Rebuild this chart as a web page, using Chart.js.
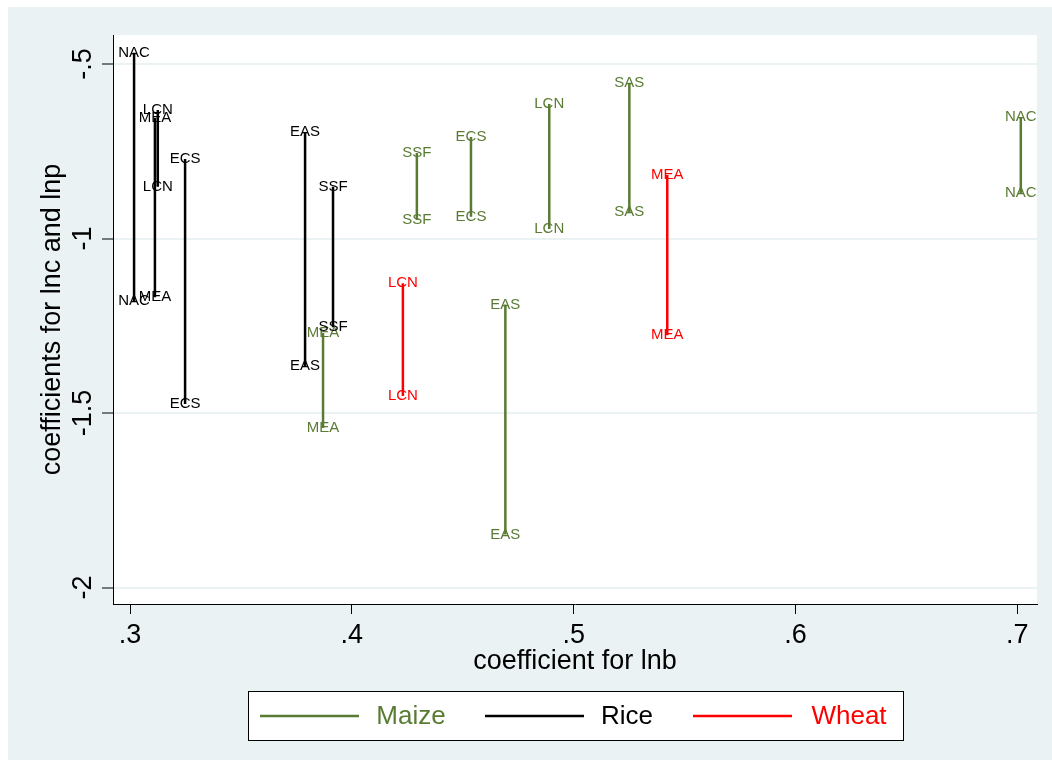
<!DOCTYPE html>
<html>
<head>
<meta charset="utf-8">
<script src="https://cdn.jsdelivr.net/npm/chart.js@4"></script>
<style>
  html, body { margin: 0; padding: 0; background: #fff; }
  canvas { display: block; }
</style>
</head>
<body>
<canvas id="chart" width="1052" height="769"></canvas>
<script>
// DATI: coefficient for lnb (x) e coefficients for lnc / lnp (estremi dei segmenti)
const maizeRegions = ["MEA", "SSF", "ECS", "EAS", "LCN", "SAS", "NAC"];
const maizeLnb = [0.387, 0.4293, 0.4537, 0.4692, 0.489, 0.5251, 0.7016];
const maizeTop = [-1.271, -0.755, -0.709, -1.189, -0.615, -0.554, -0.652];
const maizeBottom = [-1.543, -0.947, -0.938, -1.848, -0.973, -0.924, -0.870];

const riceRegions = ["NAC", "MEA", "LCN", "ECS", "EAS", "SSF"];
const riceLnb = [0.3018, 0.3112, 0.3125, 0.3248, 0.3789, 0.3915];
const riceTop = [-0.468, -0.655, -0.632, -0.772, -0.695, -0.852];
const riceBottom = [-1.179, -1.168, -0.852, -1.474, -1.365, -1.254];

const wheatRegions = ["LCN", "MEA"];
const wheatLnb = [0.423, 0.5422];
const wheatTop = [-1.128, -0.818];
const wheatBottom = [-1.451, -1.277];

const crops = ["Maize", "Rice", "Wheat"];
const cropColors = ["#5a7b34", "#000000", "#ff0000"];

const xTicks = [0.3, 0.4, 0.5, 0.6, 0.7];
const xTickLabels = [".3", ".4", ".5", ".6", ".7"];
const yTicks = [-2, -1.5, -1, -0.5];
const yTickLabels = ["-2", "-1.5", "-1", "-.5"];

const FONT = "'Liberation Sans', Arial, Helvetica, sans-serif";
const BG = "#eaf2f3";

// segmenti: top, bottom, poi un buco (null) per staccare la linea
function buildSegments(lnb, top, bottom, regions) {
  const data = [];
  const labels = [];
  for (let i = 0; i < lnb.length; i++) {
    data.push({ x: lnb[i], y: top[i] });
    labels.push(regions[i]);
    data.push({ x: lnb[i], y: bottom[i] });
    labels.push(regions[i]);
    data.push({ x: lnb[i], y: null });
    labels.push(null);
  }
  return { data, labels };
}

const seg = [
  buildSegments(maizeLnb, maizeTop, maizeBottom, maizeRegions),
  buildSegments(riceLnb, riceTop, riceBottom, riceRegions),
  buildSegments(wheatLnb, wheatTop, wheatBottom, wheatRegions),
];

// SFONDO
const backgroundPlugin = {
  id: "stataBackground",
  beforeDraw(chart) {
    const { ctx, chartArea } = chart;
    ctx.save();
    ctx.fillStyle = "#ffffff";
    ctx.fillRect(0, 0, chart.width, chart.height);
    ctx.fillStyle = BG;
    ctx.fillRect(8, 7, chart.width - 8, 753);
    ctx.fillStyle = "#ffffff";
    ctx.fillRect(chartArea.left, chartArea.top, chartArea.right - chartArea.left, chartArea.bottom - chartArea.top);
    ctx.restore();
  },
};

// ETICHETTE DEI SEGMENTI + TICK Y RUOTATI + LEGENDA
const labelsPlugin = {
  id: "segmentLabels",
  afterDatasetsDraw(chart) {
    const ctx = chart.ctx;
    ctx.save();
    ctx.font = "15px " + FONT;
    ctx.textAlign = "center";
    ctx.textBaseline = "middle";
    chart.data.datasets.forEach((ds, di) => {
      const meta = chart.getDatasetMeta(di);
      ctx.fillStyle = ds.borderColor;
      meta.data.forEach((pt, i) => {
        const txt = ds.regionLabels[i];
        if (!txt) return;
        ctx.fillText(txt, pt.x, pt.y);
      });
    });
    ctx.restore();
  },
  afterDraw(chart) {
    const ctx = chart.ctx;
    const yScale = chart.scales.y;
    ctx.save();
    // tick labels asse y, ruotati
    ctx.font = "27px " + FONT;
    ctx.fillStyle = "#000";
    ctx.textAlign = "center";
    ctx.textBaseline = "middle";
    yTicks.forEach((v, i) => {
      const py = yScale.getPixelForValue(v);
      ctx.save();
      ctx.translate(84, py);
      ctx.rotate(-Math.PI / 2);
      ctx.fillText(yTickLabels[i], 0, 0);
      ctx.restore();
    });

    // legenda
    ctx.fillStyle = "#ffffff";
    ctx.fillRect(248, 691, 655, 49);
    ctx.strokeStyle = "#000";
    ctx.lineWidth = 1;
    ctx.strokeRect(248.5, 691.5, 655, 49);
    const items = [
      { line: 260, text: 411 },
      { line: 485, text: 627 },
      { line: 693, text: 849 },
    ];
    ctx.font = "26px " + FONT;
    ctx.textAlign = "center";
    ctx.textBaseline = "middle";
    crops.forEach((c, i) => {
      ctx.strokeStyle = cropColors[i];
      ctx.lineWidth = 2.5;
      ctx.beginPath();
      ctx.moveTo(items[i].line, 716);
      ctx.lineTo(items[i].line + 99, 716);
      ctx.stroke();
      ctx.fillStyle = cropColors[i];
      ctx.fillText(c, items[i].text, 717);
    });
    ctx.restore();
  },
};

new Chart(document.getElementById("chart"), {
  type: "line",
  data: {
    datasets: crops.map((c, i) => ({
      label: c,
      data: seg[i].data,
      regionLabels: seg[i].labels,
      borderColor: cropColors[i],
      backgroundColor: cropColors[i],
      borderWidth: 2.5,
      pointRadius: 0,
      spanGaps: false,
      tension: 0,
    })),
  },
  options: {
    responsive: false,
    animation: false,
    devicePixelRatio: 1,
    layout: { padding: { left: 0, top: 35, right: 15, bottom: 85 } },
    plugins: {
      legend: { display: false },
      tooltip: { enabled: false },
    },
    scales: {
      x: {
        type: "linear",
        min: 0.2923,
        max: 0.7089,
        afterBuildTicks: (s) => { s.ticks = xTicks.map((v) => ({ value: v })); },
        afterFit: (s) => { s.height = 80; },
        ticks: {
          callback: (v, i) => xTickLabels[i],
          color: "#000",
          font: { family: FONT, size: 27 },
          padding: 5,
          maxRotation: 0,
          minRotation: 0,
        },
        grid: { drawOnChartArea: false, tickLength: 10, tickColor: "#000", color: "#000" },
        border: { display: true, color: "#000", width: 1 },
        title: {
          display: true,
          text: "coefficient for lnb",
          color: "#000",
          font: { family: FONT, size: 27 },
          padding: { top: 0, bottom: 6 },
        },
      },
      y: {
        type: "linear",
        min: -2.047,
        max: -0.417,
        afterBuildTicks: (s) => { s.ticks = yTicks.map((v) => ({ value: v })); },
        afterFit: (s) => { s.width = 113; },
        ticks: { display: false },
        grid: { color: BG, lineWidth: 2, tickLength: 11, tickColor: "#000", tickWidth: 1 },
        border: { display: true, color: "#000", width: 1 },
        title: {
          display: true,
          text: "coefficients for lnc and lnp",
          color: "#000",
          font: { family: FONT, size: 27 },
          padding: { top: 36, bottom: 0 },
        },
      },
    },
  },
  plugins: [backgroundPlugin, labelsPlugin],
});
</script>
</body>
</html>
